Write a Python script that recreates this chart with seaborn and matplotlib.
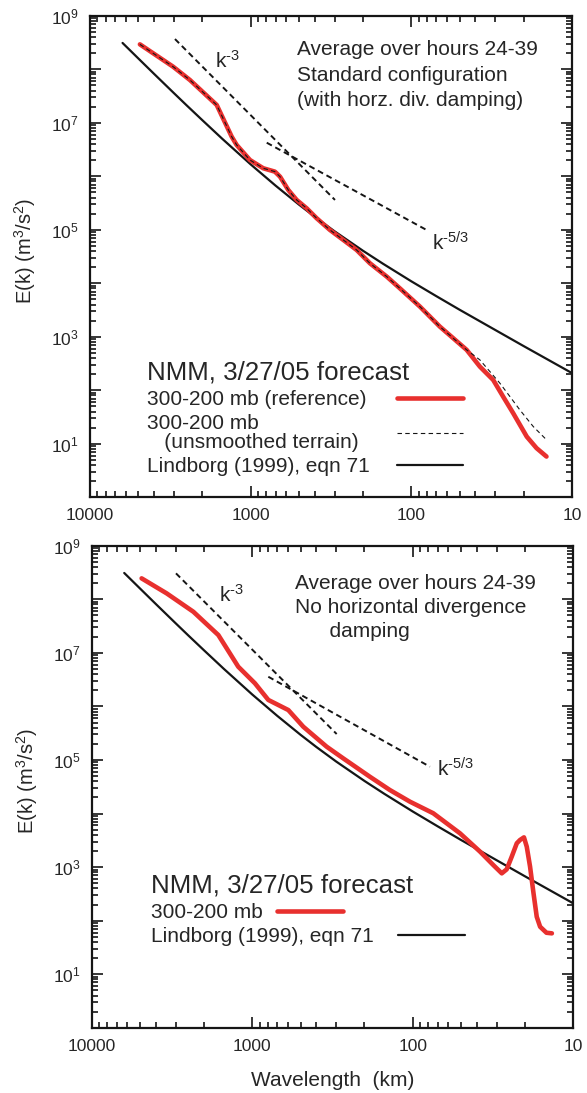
import numpy as np
import matplotlib
matplotlib.use("Agg")
import matplotlib.pyplot as plt
import seaborn as sns
from matplotlib.ticker import FixedLocator, LogLocator, FuncFormatter, NullFormatter

# ---------------- data ----------------
# Lindborg (1999), eqn 71 (same curve in both panels)
lind_lam = [6270, 5000, 4000, 3000, 2500, 2000, 1500, 1000, 700, 500, 400, 300,
            200, 150, 100, 70, 50, 30, 20, 10]
lind_E = [3.1e8, 1.59e8, 8.25e7, 3.57e7, 2.11e7, 1.12e7, 5.0e6, 1.67e6, 6.7e5,
          2.95e5, 1.76e5, 9.35e4, 4.06e4, 2.32e4, 1.09e4, 5.77e3, 3.2e3, 1.34e3,
          672, 210]

# Top panel: 300-200 mb (reference)
top_lam = [4890, 3030, 2388, 1626, 1312, 1222, 1009, 834, 706, 656, 583, 517,
           448, 388, 321, 265, 219, 181, 142, 118, 88.3, 66.4, 54.8, 45.2,
           37.4, 30.9, 26.8, 23.2, 19.1, 16.6, 14.4]
top_E = [2.92e8, 1.11e8, 6.30e7, 2.15e7, 5.50e6, 3.85e6, 2.01e6, 1.41e6, 1.22e6,
         9.82e5, 5.55e5, 3.61e5, 2.52e5, 1.64e5, 9.93e4, 6.46e4, 4.20e4, 2.37e4,
         1.33e4, 8.09e3, 3.66e3, 1.55e3, 940, 569, 277, 156, 76.2, 37.3, 13.6,
         8.30, 5.78]

# Top panel: 300-200 mb (unsmoothed terrain) -- follows reference, then departs
unsm_tail_lam = [37.4, 28.1, 24.3, 21.1, 17.4, 14.4]
unsm_tail_E = [370, 136, 76.2, 43.1, 21.0, 11.9]
unsm_lam = top_lam[:24] + unsm_tail_lam
unsm_E = top_E[:24] + unsm_tail_E

# Bottom panel: 300-200 mb (no divergence damping)
bot_lam = [4887, 3412, 2328, 1626, 1222, 962, 794, 596, 481, 344, 271, 185, 139,
           104, 74.5, 50.8, 38.1, 31.5, 27.9, 26.0, 24.2, 22.5, 21.5, 20.3,
           19.5, 18.6, 17.7, 16.9, 16.1, 14.7, 13.6]
bot_E = [2.46e8, 1.29e8, 5.86e7, 2.15e7, 5.51e6, 2.70e6, 1.32e6, 8.55e5, 4.18e5,
         1.77e5, 1.07e5, 4.86e4, 2.75e4, 1.66e4, 1.01e4, 4.27e3, 1.94e3, 1.09e3,
         764, 908, 1.56e3, 2.78e3, 3.20e3, 3.59e3, 2.40e3, 1.02e3, 324, 118,
         76.9, 59.4, 57.9]

# reference slopes (end points)
top_k3_lam, top_k3_E = [2958, 298.5], [3.67e8, 3.61e5]
top_k53_lam, top_k53_E = [794, 78.3], [4.24e6, 9.51e4]
bot_k3_lam, bot_k3_E = [2985, 297.9], [3.05e8, 3.05e5]
bot_k53_lam, bot_k53_E = [794, 78.2], [3.58e6, 7.48e4]

xtick_vals = [10000, 1000, 100, 10]
xtick_labels = ["10000", "1000", "100", "10"]
ytick_label_exps = [1, 3, 5, 7, 9]

RED = "#E8302E"
INK = "#151515"

# ---------------- style ----------------
sns.set_style("ticks")
plt.rcParams["font.family"] = ["Liberation Sans", "DejaVu Sans"]
plt.rcParams["mathtext.fontset"] = "custom"
plt.rcParams["mathtext.rm"] = "Liberation Sans"
plt.rcParams["mathtext.it"] = "Liberation Sans:italic"
plt.rcParams["mathtext.default"] = "regular"
plt.rcParams["axes.unicode_minus"] = False

fig = plt.figure(figsize=(5.87, 10.93), dpi=100)
ax_top = fig.add_axes([0.1533, 0.545, 0.821, 0.4406])
ax_bot = fig.add_axes([0.1562, 0.0597, 0.8205, 0.441])


def style_axis(ax):
    ax.set_xscale("log")
    ax.set_yscale("log")
    ax.set_xlim(10000, 10)
    ax.set_ylim(1, 1e9)
    ax.xaxis.set_major_locator(FixedLocator(xtick_vals))
    ax.xaxis.set_major_formatter(
        FuncFormatter(lambda v, p: xtick_labels[xtick_vals.index(int(round(v)))]
                      if int(round(v)) in xtick_vals else ""))
    ax.xaxis.set_minor_locator(LogLocator(10, subs=np.arange(2, 10) * 1.0, numticks=30))
    ax.xaxis.set_minor_formatter(NullFormatter())
    ax.yaxis.set_major_locator(FixedLocator([10.0 ** i for i in range(0, 10)]))

    def yfmt(v, p):
        e = int(round(np.log10(v)))
        return f"$10^{{{e}}}$" if e in ytick_label_exps else ""
    ax.yaxis.set_major_formatter(FuncFormatter(yfmt))
    ax.yaxis.set_minor_locator(LogLocator(10, subs=np.arange(2, 10) * 1.0, numticks=30))
    ax.yaxis.set_minor_formatter(NullFormatter())
    ax.tick_params(which="both", direction="in", top=True, right=True,
                   color=INK, width=1.2)
    ax.tick_params(which="major", length=8, labelsize=12.5, pad=8)
    ax.tick_params(which="minor", length=4)
    for s in ax.spines.values():
        s.set_linewidth(1.6)
        s.set_color(INK)
    ax.set_ylabel(r"E(k) (m$^3$/s$^2$)", fontsize=14.5)
    ax.yaxis.set_label_coords(-0.108, 0.512)


for ax in (ax_top, ax_bot):
    style_axis(ax)

DASH = (0, (3, 2))
K3 = r"k$^{\text{-3}}$"
K53 = r"k$^{\text{-5/3}}$"

# ---------------- top panel ----------------
sns.lineplot(x=lind_lam, y=lind_E, ax=ax_top, sort=False, estimator=None,
             color=INK, linewidth=1.6, label="Lindborg (1999), eqn 71", zorder=2)
sns.lineplot(x=top_lam, y=top_E, ax=ax_top, sort=False, estimator=None,
             color=RED, linewidth=3.3, label="300-200 mb (reference)", zorder=3)
sns.lineplot(x=unsm_lam, y=unsm_E, ax=ax_top, sort=False, estimator=None,
             color=INK, linewidth=0.8, linestyle=(0, (4, 3)),
             label="300-200 mb\n   (unsmoothed terrain)", zorder=4)
sns.lineplot(x=top_k3_lam, y=top_k3_E, ax=ax_top, sort=False, estimator=None,
             color=INK, linewidth=1.4, linestyle=DASH, zorder=2)
sns.lineplot(x=top_k53_lam, y=top_k53_E, ax=ax_top, sort=False, estimator=None,
             color=INK, linewidth=1.4, linestyle=DASH, zorder=2)
ax_top.text(0.26, 0.891, K3, transform=ax_top.transAxes, fontsize=15,
            ha="left", va="baseline")
ax_top.text(0.7095, 0.5135, K53, transform=ax_top.transAxes, fontsize=15,
            ha="left", va="baseline")
ax_top.text(0.429, 0.949,
            "Average over hours 24-39\nStandard configuration\n(with horz. div. damping)",
            transform=ax_top.transAxes, fontsize=15, ha="left", va="top",
            linespacing=1.42)

h, l = ax_top.get_legend_handles_labels()
order = [l.index("300-200 mb (reference)"),
         l.index("300-200 mb\n   (unsmoothed terrain)"),
         l.index("Lindborg (1999), eqn 71")]
leg = ax_top.legend([h[i] for i in order], [l[i] for i in order],
                    loc="upper left", bbox_to_anchor=(0.118, 0.2835),
                    frameon=False, markerfirst=False,
                    title="NMM, 3/27/05 forecast", title_fontsize=18.6,
                    fontsize=15, alignment="left", handlelength=3.2,
                    handletextpad=1.2, labelspacing=0.25, borderpad=0,
                    borderaxespad=0)
for t in leg.get_texts():
    t.set_linespacing(1.0)

# ---------------- bottom panel ----------------
sns.lineplot(x=lind_lam, y=lind_E, ax=ax_bot, sort=False, estimator=None,
             color=INK, linewidth=1.6, label="Lindborg (1999), eqn 71", zorder=2)
sns.lineplot(x=bot_lam, y=bot_E, ax=ax_bot, sort=False, estimator=None,
             color=RED, linewidth=3.3, label="300-200 mb", zorder=3)
sns.lineplot(x=bot_k3_lam, y=bot_k3_E, ax=ax_bot, sort=False, estimator=None,
             color=INK, linewidth=1.4, linestyle=DASH, zorder=2)
sns.lineplot(x=bot_k53_lam, y=bot_k53_E, ax=ax_bot, sort=False, estimator=None,
             color=INK, linewidth=1.4, linestyle=DASH, zorder=2)
ax_bot.text(0.264, 0.884, K3, transform=ax_bot.transAxes, fontsize=15,
            ha="left", va="baseline")
ax_bot.text(0.716, 0.521, K53, transform=ax_bot.transAxes, fontsize=15,
            ha="left", va="baseline")
ax_bot.text(0.422, 0.941,
            "Average over hours 24-39\nNo horizontal divergence\n      damping",
            transform=ax_bot.transAxes, fontsize=15, ha="left", va="top",
            linespacing=1.32)
ax_bot.set_xlabel("Wavelength  (km)", fontsize=15, labelpad=12)

h, l = ax_bot.get_legend_handles_labels()
order = [l.index("300-200 mb"), l.index("Lindborg (1999), eqn 71")]
leg2 = ax_bot.legend([h[i] for i in order], [l[i] for i in order],
                     loc="upper left", bbox_to_anchor=(0.124, 0.3195),
                     frameon=False, markerfirst=False,
                     title="NMM, 3/27/05 forecast", title_fontsize=18.6,
                     fontsize=15, alignment="left", handlelength=3.2,
                     handletextpad=1.0, labelspacing=0.25, borderpad=0,
                     borderaxespad=0)


def place_handles(legend, targets_px):
    """Left-align legend text and start each handle at a given x (pixels)."""
    for col in legend._legend_handle_box.get_children():
        col.align = "left"
    fig.canvas.draw()
    r = fig.canvas.get_renderer()
    rows = [row for col in legend._legend_handle_box.get_children()
            for row in col.get_children()]
    for row, txt, tx in zip(rows, legend.get_texts(), targets_px):
        right = txt.get_window_extent(r).x1
        row.sep = max(2.0, (tx - right) / r.points_to_pixels(1.0))


place_handles(leg, [396.7, 396.7, 396.7])
place_handles(leg2, [276.7, 398.3])

fig.savefig("out.png", dpi=100)
